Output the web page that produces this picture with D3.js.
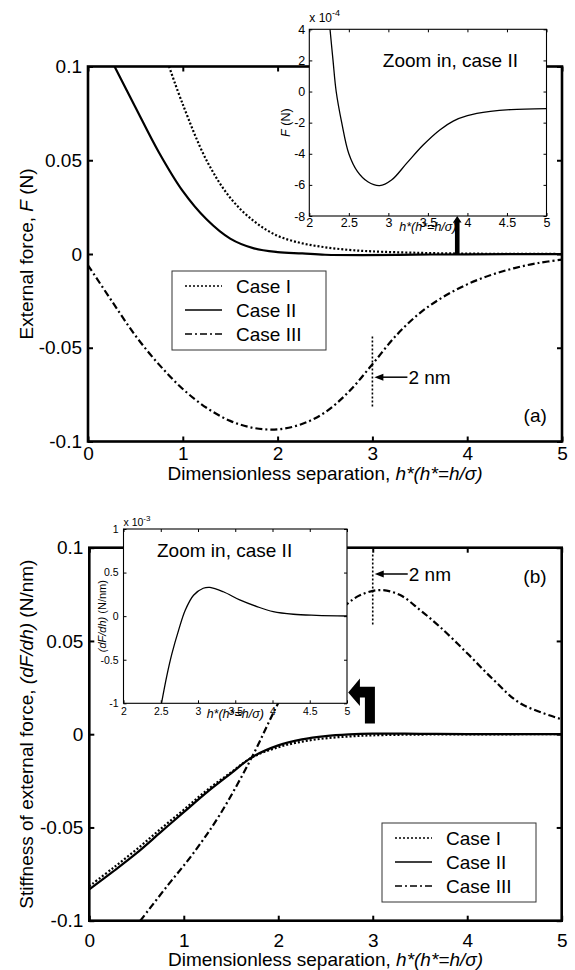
<!DOCTYPE html>
<html><head><meta charset="utf-8">
<script src="https://cdn.jsdelivr.net/npm/d3@7"></script>
<style>
body{margin:0;background:#fff}
svg{display:block}
</style>
</head><body><svg id="c" width="575" height="970"></svg>
<script>
// ---------------- DATA ----------------
const caseNames = ["Case I", "Case II", "Case III"];
const xTicksMain = [0, 1, 2, 3, 4, 5];
const yTicksMain = [-0.1, -0.05, 0, 0.05, 0.1];
const xTicksInset = [2, 2.5, 3, 3.5, 4, 4.5, 5];
const yTicksInsetA = [-8, -6, -4, -2, 0, 2, 4];
const yTicksInsetB = [-1, -0.5, 0, 0.5, 1];

// (a) external force F (N)
const forceI_h = [0.855, 1.0, 1.25, 1.5, 1.75, 2.0, 2.25, 2.5, 2.75, 3.0, 3.5, 4.0, 4.5, 5.0];
const forceI_F = [0.1, 0.0798, 0.050, 0.0300, 0.0175, 0.0097, 0.0058, 0.0036, 0.0022, 0.0014, 0.0006, 0.0002, 0.0001, 0.0];
const forceII_h = [0.28, 0.5, 0.75, 1.0, 1.25, 1.5, 1.75, 2.0, 2.26, 2.5, 2.89, 3.44, 4.0, 5.0];
const forceII_F = [0.1, 0.0783, 0.054, 0.0335, 0.0185, 0.0082, 0.0030, 0.0010, 0.0003, -0.0004, -0.0006, -0.00034, -0.00015, -0.00011];
const forceIII_h = [0, 0.25, 0.5, 0.75, 1.0, 1.25, 1.5, 1.75, 2.0, 2.25, 2.5, 2.75, 3.0, 3.25, 3.5, 3.75, 4.0, 4.25, 4.5, 4.75, 5.0];
const forceIII_F = [-0.006, -0.025, -0.0435, -0.059, -0.072, -0.082, -0.089, -0.0928, -0.0935, -0.0908, -0.0845, -0.0735, -0.0588, -0.0435, -0.0315, -0.0228, -0.0162, -0.0112, -0.0075, -0.0048, -0.003];
// inset (a): case II, F in units of 1e-4 N
const zoomF_h = [2.262, 2.30, 2.34, 2.41, 2.50, 2.61, 2.74, 2.89, 3.04, 3.23, 3.44, 3.65, 3.82, 4.0, 4.29, 4.55, 5.0];
const zoomF_v = [4, 2.0, 0, -2.0, -4.0, -5.15, -5.8, -6.05, -5.69, -4.62, -3.44, -2.47, -1.9, -1.55, -1.28, -1.16, -1.1];

// (b) stiffness dF/dh (N/nm)
const stiff_h = [0, 0.25, 0.5, 0.75, 1.0, 1.25, 1.5, 1.72, 2.0, 2.25, 2.5, 2.75, 3.0, 3.5, 4.0, 5.0];
const stiffI = [-0.0815, -0.0718, -0.0618, -0.0510, -0.0405, -0.0298, -0.0205, -0.0125, -0.0070, -0.0040, -0.0022, -0.0012, -0.0006, -0.0002, -0.0001, 0];
const stiffII = [-0.0832, -0.0737, -0.0638, -0.0528, -0.0418, -0.0309, -0.0210, -0.0124, -0.0060, -0.0028, -0.0010, -0.0001, 0.0003, 0.0002, 0.00005, 0];
const stiffIII_h = [0.54, 0.82, 1.10, 1.38, 1.72, 1.98, 2.25, 2.5, 2.715, 2.87, 3.08, 3.29, 3.50, 3.71, 4.0, 4.28, 4.56, 5.0];
const stiffIII = [-0.1, -0.0817, -0.0639, -0.0433, -0.0124, 0.0147, 0.040, 0.0588, 0.0693, 0.0746, 0.0773, 0.0746, 0.0666, 0.0576, 0.0434, 0.0291, 0.0166, 0.0080];
// inset (b): case II, dF/dh in units of 1e-3 N/nm
const zoomS_h = [2.51, 2.58, 2.65, 2.74, 2.83, 2.94, 3.07, 3.16, 3.34, 3.56, 3.79, 4.01, 4.28, 4.59, 5.0];
const zoomS_v = [-1, -0.69, -0.43, -0.16, 0.07, 0.24, 0.32, 0.33, 0.28, 0.186, 0.11, 0.052, 0.022, 0.01, 0.002];

// ---------------- DRAW ----------------
const FONT = '"Liberation Sans", Arial, Helvetica, sans-serif';
const svg = d3.select("#c");
svg.append("rect").attr("width", 575).attr("height", 970).attr("fill", "#fff");
const styles = [{dash: "2,2"}, {dash: null}, {dash: "7,3,2,3"}];

const xA = d3.scaleLinear().domain([0, 5]).range([88, 562]);
const yA = d3.scaleLinear().domain([-0.1, 0.1]).range([441.5, 66.5]);
const xAi = d3.scaleLinear().domain([2, 5]).range([309.3, 546.5]);
const yAi = d3.scaleLinear().domain([-8, 4]).range([216, 29.3]);
const xB = d3.scaleLinear().domain([0, 5]).range([89.3, 561.7]);
const yB = d3.scaleLinear().domain([-0.1, 0.1]).range([920.7, 547.7]);
const xBi = d3.scaleLinear().domain([2, 5]).range([123.5, 347]);
const yBi = d3.scaleLinear().domain([-1, 1]).range([703.3, 529]);

let clipId = 0;
function clip(x, y) {
  const id = "cl" + (clipId++);
  const [x0, x1] = x.range(), [y0, y1] = y.range();
  svg.append("clipPath").attr("id", id).append("rect")
    .attr("x", x0).attr("y", y1).attr("width", x1 - x0).attr("height", y0 - y1);
  return "url(#" + id + ")";
}

function drawCurve(g, x, y, hs, vs, style, sw, cp) {
  const pts = hs.map((h, i) => [h, vs[i]]);
  g.append("path").datum(pts)
    .attr("d", d3.line().x(d => x(d[0])).y(d => y(d[1])).curve(d3.curveCatmullRom.alpha(0.5)))
    .attr("fill", "none").attr("stroke", "#000").attr("stroke-width", sw)
    .attr("stroke-dasharray", style.dash).attr("clip-path", cp);
}

function drawAxes(g, x, y, o) {
  const [xa, xb] = x.range(), [yb, ya] = y.range();
  const ax = (gen, tx, ty, labels, pad) => {
    gen.tickSizeInner(-o.len).tickSizeOuter(0).tickPadding(pad)
      .tickFormat(labels ? (d => String(d)) : (() => ""));
    const gg = g.append("g").attr("transform", `translate(${tx},${ty})`).call(gen);
    gg.select(".domain").remove();
    gg.selectAll("line").attr("stroke", "#000").attr("stroke-width", o.tw);
    gg.selectAll("text").attr("font-size", o.fs).attr("font-family", FONT).attr("fill", "#000");
  };
  ax(d3.axisBottom(x).tickValues(o.xt), 0, yb, true, o.padX);
  ax(d3.axisTop(x).tickValues(o.xt), 0, ya, false, 0);
  ax(d3.axisLeft(y).tickValues(o.yt), xa, 0, true, o.padY);
  ax(d3.axisRight(y).tickValues(o.yt), xb, 0, false, 0);
  g.append("rect").attr("x", xa).attr("y", ya).attr("width", xb - xa).attr("height", yb - ya)
    .attr("fill", "none").attr("stroke", "#000").attr("stroke-width", o.sw);
}

function bgRect(g, x, y) {
  const [xa, xb] = x.range(), [yb, ya] = y.range();
  g.append("rect").attr("x", xa).attr("y", ya).attr("width", xb - xa).attr("height", yb - ya).attr("fill", "#fff");
}

function text(g, x, y, parts, fs, anchor, rotate) {
  const t = g.append("text").attr("font-family", FONT).attr("font-size", fs).attr("fill", "#000")
    .attr("text-anchor", anchor || "start");
  if (rotate) t.attr("transform", `translate(${x},${y}) rotate(-90)`);
  else t.attr("x", x).attr("y", y);
  parts.forEach(p => {
    const s = t.append("tspan").text(p.t);
    if (p.i) s.attr("font-style", "italic");
    if (p.dy) s.attr("dy", p.dy);
    if (p.fs) s.attr("font-size", p.fs);
  });
  return t;
}

function legend(g, x0, y0, w, h, fs) {
  g.append("rect").attr("x", x0).attr("y", y0).attr("width", w).attr("height", h)
    .attr("fill", "#fff").attr("stroke", "#333").attr("stroke-width", 1);
  caseNames.forEach((n, i) => {
    const cy = y0 + 15 + i * 24;
    g.append("line").attr("x1", x0 + 13).attr("x2", x0 + 50).attr("y1", cy).attr("y2", cy)
      .attr("stroke", "#000").attr("stroke-width", 1.6).attr("stroke-dasharray", styles[i].dash);
    text(g, x0 + 64, cy, [{t: n}], fs).attr("dy", "0.35em");
  });
}

function nmMarker(g, x, y, xv, yTop, yBot, yArr, yTxt) {
  g.append("line").attr("x1", x(xv)).attr("x2", x(xv)).attr("y1", y(yTop)).attr("y2", y(yBot))
    .attr("stroke", "#000").attr("stroke-width", 1.6).attr("stroke-dasharray", "2,2");
  const xt = x(xv) + 2, ya = y(yArr);
  g.append("line").attr("x1", xt + 6).attr("x2", xt + 33).attr("y1", ya).attr("y2", ya)
    .attr("stroke", "#000").attr("stroke-width", 1.5);
  g.append("path").attr("d", `M${xt},${ya} L${xt + 9},${ya - 3.5} L${xt + 9},${ya + 3.5} Z`).attr("fill", "#000");
  text(g, xt + 34, y(yTxt), [{t: "2 nm"}], 19);
}

const hLabel = [{t: "Dimensionless separation, "}, {t: "h*(h*=h/σ)", i: true}];
const hLabelSmall = [{t: "h*(h*=h/σ)", i: true}];

// ===== Panel (a) =====
const gA = svg.append("g");
const cpA = clip(xA, yA);
drawCurve(gA, xA, yA, forceI_h, forceI_F, styles[0], 2.2, cpA);
drawCurve(gA, xA, yA, forceII_h, forceII_F, styles[1], 2.2, cpA);
drawCurve(gA, xA, yA, forceIII_h, forceIII_F, styles[2], 2.2, cpA);
drawAxes(gA, xA, yA, {xt: xTicksMain, yt: yTicksMain, len: 5, tw: 2, sw: 2.6, fs: 19, padX: 5, padY: 6});
legend(gA, 172, 271, 154, 79, 19);
nmMarker(gA, xA, yA, 3, -0.044, -0.0824, -0.0657, -0.0692);
text(gA, xA(4.84), yA(-0.0897), [{t: "(a)"}], 19, "end");
text(gA, xA(2.5), 480, hLabel, 19, "middle");
text(gA, 33, yA(0), [{t: "External force, "}, {t: "F", i: true}, {t: " (N)"}], 19, "middle", true);

// inset (a)
const gAi = svg.append("g");
bgRect(gAi, xAi, yAi);
drawCurve(gAi, xAi, yAi, zoomF_h, zoomF_v, styles[1], 1.3, clip(xAi, yAi));
drawAxes(gAi, xAi, yAi, {xt: xTicksInset, yt: yTicksInsetA, len: 3, tw: 1, sw: 1.1, fs: 12.5, padX: 2, padY: 4});
text(gAi, xAi(2), 22, [{t: "x 10"}, {t: "-4", fs: 9, dy: "-6"}], 12);
text(gAi, xAi(2.93), yAi(1.57), [{t: "Zoom in, case II"}], 19);
text(gAi, xAi(3.5), 231, hLabelSmall, 12.5, "middle");
text(gAi, 290, yAi(-2), [{t: "F", i: true}, {t: " (N)"}], 12.5, "middle", true);
// thick up arrow from main curve to inset
const ax0 = xA(3.895), ayB = yA(0), ayT = yAi(-8);
gAi.append("path")
  .attr("d", `M${ax0 - 2.3},${ayB} L${ax0 + 2.3},${ayB} L${ax0 + 2.3},${ayT + 6.5} L${ax0 + 4.3},${ayT + 6.5} L${ax0},${ayT} L${ax0 - 4.3},${ayT + 6.5} L${ax0 - 2.3},${ayT + 6.5} Z`)
  .attr("fill", "#000");

// ===== Panel (b) =====
const gB = svg.append("g");
const cpB = clip(xB, yB);
drawCurve(gB, xB, yB, stiff_h, stiffI, styles[0], 2.2, cpB);
drawCurve(gB, xB, yB, stiff_h, stiffII, styles[1], 2.2, cpB);
drawCurve(gB, xB, yB, stiffIII_h, stiffIII, styles[2], 2.2, cpB);
drawAxes(gB, xB, yB, {xt: xTicksMain, yt: yTicksMain, len: 5, tw: 2, sw: 2.6, fs: 19, padX: 12.5, padY: 6});
legend(gB, 382, 823, 154, 79, 19);
nmMarker(gB, xB, yB, 3.0, 0.0963, 0.0577, 0.0859, 0.0819);
text(gB, xB(4.84), yB(0.081), [{t: "(b)"}], 19, "end");
text(gB, xB(2.5), 966, hLabel, 19, "middle");
text(gB, 33, yB(0), [{t: "Stiffness of external force, "}, {t: "(dF/dh)", i: true}, {t: " (N/nm)"}], 19, "middle", true);

// inset (b)
const gBi = svg.append("g");
bgRect(gBi, xBi, yBi);
drawCurve(gBi, xBi, yBi, zoomS_h, zoomS_v, styles[1], 1.3, clip(xBi, yBi));
drawAxes(gBi, xBi, yBi, {xt: xTicksInset, yt: yTicksInsetB, len: 3, tw: 1, sw: 1.1, fs: 10.5, padX: 4.5, padY: 5});
text(gBi, xBi(2), 526, [{t: "x 10"}, {t: "-3", fs: 8, dy: "-5"}], 10.5);
text(gBi, xBi(2.45), yBi(0.68), [{t: "Zoom in, case II"}], 19);
text(gBi, xBi(3.5), 718, hLabelSmall, 12.5, "middle");
text(gBi, 106, yBi(0), [{t: "(dF/dh)", i: true}, {t: " (N/nm)"}], 11, "middle", true);
// bent arrow pointing at inset
const bx = xB(3.023), by = yB(0.0058);
gBi.append("path")
  .attr("d", `M${bx - 26.7},${by - 31} L${bx - 15},${by - 45} L${bx - 15},${by - 36.6} L${bx},${by - 36.6} L${bx},${by} L${bx - 10},${by} L${bx - 10},${by - 26} L${bx - 15},${by - 26} L${bx - 15},${by - 17.3} Z`)
  .attr("fill", "#000");
</script>
</body></html>
